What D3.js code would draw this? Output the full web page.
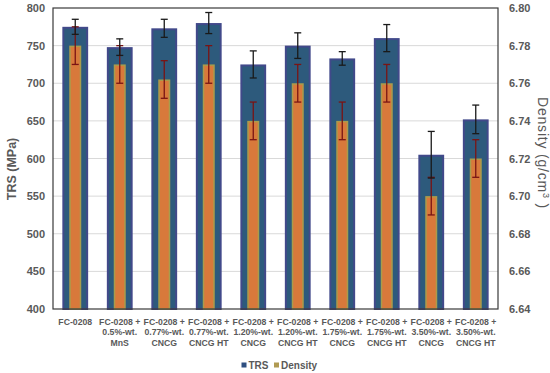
<!DOCTYPE html>
<html>
<head>
<meta charset="utf-8">
<script src="https://cdn.jsdelivr.net/npm/d3@7"></script>
<style>
  body { margin: 0; background: #fff; }
  svg { display: block; font-family: "Liberation Sans", Arial, sans-serif; }
</style>
</head>
<body>
<svg id="chart" width="550" height="373"></svg>
<script>
// data
const categories = [
  ["FC-0208"],
  ["FC-0208 +", "0.5%-wt.", "MnS"],
  ["FC-0208 +", "0.77%-wt.", "CNCG"],
  ["FC-0208 +", "0.77%-wt.", "CNCG HT"],
  ["FC-0208 +", "1.20%-wt.", "CNCG"],
  ["FC-0208 +", "1.20%-wt.", "CNCG HT"],
  ["FC-0208 +", "1.75%-wt.", "CNCG"],
  ["FC-0208 +", "1.75%-wt.", "CNCG HT"],
  ["FC-0208 +", "3.50%-wt.", "CNCG"],
  ["FC-0208 +", "3.50%-wt.", "CNCG HT"]
];
const trs = [775, 748, 773, 780, 725, 750, 733, 760, 605, 652];
const trsErr = [10, 11, 12, 14, 18, 17, 9, 18, 31, 19];
const density = [6.78, 6.77, 6.762, 6.77, 6.74, 6.76, 6.74, 6.76, 6.70, 6.72];
const densityErr = [0.01, 0.01, 0.01, 0.01, 0.01, 0.01, 0.01, 0.01, 0.01, 0.01];
const trsTicks = [400, 450, 500, 550, 600, 650, 700, 750, 800];
const densityTicks = [6.64, 6.66, 6.68, 6.70, 6.72, 6.74, 6.76, 6.78, 6.80];

const svg = d3.select("#chart");
const pL = 53, pR = 498, pT = 8, pB = 309;
const ids = categories.map((c, i) => i);

const x = d3.scaleBand().domain(ids).range([pL, pR]).paddingInner(0.42).paddingOuter(0.21);
const yL = d3.scaleLinear().domain([400, 800]).range([pB, pT]);
const yR = d3.scaleLinear().domain([6.64, 6.80]).range([pB, pT]);

// gridlines
svg.append("g")
  .selectAll("line").data(trsTicks.slice(1, -1)).join("line")
  .attr("x1", pL).attr("x2", pR)
  .attr("y1", d => yL(d)).attr("y2", d => yL(d))
  .attr("stroke", "#d9d9d9").attr("stroke-width", 1);

// TRS bars
const bw = x.bandwidth();
svg.append("g")
  .selectAll("rect").data(ids).join("rect")
  .attr("x", i => x(i) + 1)
  .attr("y", i => yL(trs[i]) + 1)
  .attr("width", bw - 2)
  .attr("height", i => pB - yL(trs[i]) - 1)
  .attr("fill", "#2d5a7c")
  .attr("stroke", "#41498a").attr("stroke-width", 2);

// density bars
const dw = 12;
svg.append("g")
  .selectAll("rect").data(ids).join("rect")
  .attr("x", i => x(i) + bw / 2 - dw / 2 + 0.75)
  .attr("y", i => yR(density[i]) + 0.75)
  .attr("width", dw - 1.5)
  .attr("height", i => pB - yR(density[i]) - 0.75)
  .attr("fill", "#d8793b")
  .attr("stroke", "#a89c4c").attr("stroke-width", 1.5);

// error bars
function errorBars(vals, errs, scale, color) {
  const g = svg.append("g").attr("stroke", color).attr("stroke-width", 1.3).attr("fill", "none");
  ids.forEach(i => {
    const cx = x(i) + bw / 2;
    const y1 = scale(vals[i] + errs[i]), y2 = scale(vals[i] - errs[i]);
    g.append("line").attr("x1", cx).attr("x2", cx).attr("y1", y1).attr("y2", y2);
    g.append("line").attr("x1", cx - 3.5).attr("x2", cx + 3.5).attr("y1", y1).attr("y2", y1);
    g.append("line").attr("x1", cx - 3.5).attr("x2", cx + 3.5).attr("y1", y2).attr("y2", y2);
  });
}
errorBars(density, densityErr, yR, "#7a1414");
errorBars(trs, trsErr, yL, "#1a1a1a");

// frame
svg.append("rect")
  .attr("x", pL).attr("y", pT)
  .attr("width", pR - pL).attr("height", pB - pT)
  .attr("fill", "none").attr("stroke", "#3a3a3a").attr("stroke-width", 1.2);

// axes
const axL = svg.append("g").attr("transform", `translate(${pL},0)`)
  .call(d3.axisLeft(yL).tickValues(trsTicks).tickSize(0).tickPadding(8));
const axR = svg.append("g").attr("transform", `translate(${pR},0)`)
  .call(d3.axisRight(yR).tickValues(densityTicks).tickFormat(d3.format(".2f")).tickSize(0).tickPadding(11));
[axL, axR].forEach(a => {
  a.select(".domain").remove();
  a.selectAll("text").attr("font-size", 11).attr("font-weight", "bold").attr("fill", "#595959")
    .attr("font-family", "Liberation Sans, Arial, sans-serif");
});

// category labels
const lab = svg.append("g").attr("font-size", 8.7).attr("font-weight", "bold")
  .attr("fill", "#595959").attr("text-anchor", "middle");
ids.forEach(i => {
  const t = lab.append("text").attr("x", x(i) + bw / 2).attr("y", 324.5);
  categories[i].forEach((s, k) => {
    t.append("tspan").attr("x", x(i) + bw / 2).attr("dy", k === 0 ? 0 : 10.8).text(s);
  });
});

// axis titles
svg.append("text")
  .attr("transform", "translate(16,169) rotate(-90)")
  .attr("text-anchor", "middle").attr("font-size", 12.5).attr("font-weight", "bold")
  .attr("fill", "#595959").text("TRS (MPa)");
const dt = svg.append("text")
  .attr("transform", "translate(538,153) rotate(90)")
  .attr("text-anchor", "middle").attr("font-size", 14).attr("letter-spacing", 0.8)
  .attr("fill", "#595959");
dt.append("tspan").text("Density (g/cm");
dt.append("tspan").attr("font-size", 9).attr("dy", -5).text("3");
dt.append("tspan").attr("dy", 5).text(" )");

// legend
const legend = [["TRS", "#2f4f80", 241.5], ["Density", "#b09a52", 274]];
const lg = svg.append("g");
legend.forEach(([name, col, lx]) => {
  lg.append("rect").attr("x", lx).attr("y", 362.5).attr("width", 5).attr("height", 5).attr("fill", col);
  lg.append("text").attr("x", lx + 7).attr("y", 368.5).attr("font-size", 10).attr("font-weight", "bold")
    .attr("fill", "#595959").text(name);
});
</script>
</body>
</html>
